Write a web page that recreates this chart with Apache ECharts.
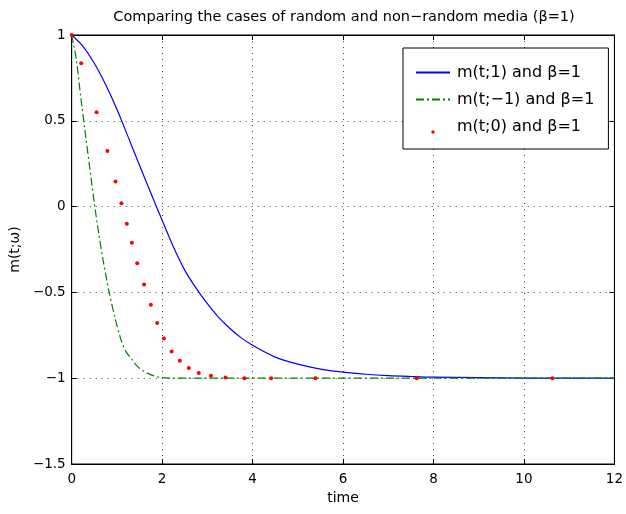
<!DOCTYPE html>
<html>
<head>
<meta charset="utf-8">
<script src="https://cdn.jsdelivr.net/npm/echarts@6/dist/echarts.min.js"></script>
<style>
html,body{margin:0;padding:0;background:#fff;}
#c{width:626px;height:514px;}
</style>
</head>
<body>
<div id="c"></div>
<script>
// ---- data ----
var xTicks = [0, 2, 4, 6, 8, 10, 12];
var yTicks = [-1.5, -1, -0.5, 0, 0.5, 1];

// m(t;1) and beta=1  (blue solid)
var tBlue = [0, 0.25, 0.5, 0.75, 1.0, 1.25, 1.5, 1.75, 2.0, 2.25, 2.5, 2.75, 3.0, 3.25, 3.5, 3.75, 4.0, 4.5, 5.0, 5.5, 6.0, 6.5, 7.0, 7.5, 8.0, 9.0, 10, 12];
var mBlue = [1, 0.934, 0.835, 0.711, 0.567, 0.405, 0.241, 0.079, -0.08, -0.235, -0.37, -0.475, -0.565, -0.645, -0.71, -0.765, -0.808, -0.877, -0.918, -0.947, -0.965, -0.977, -0.985, -0.99, -0.994, -0.997, -0.999, -1];

// m(t;-1) and beta=1  (green dash-dot)
var tGreen = [0, 0.1, 0.2, 0.3, 0.4, 0.5, 0.6, 0.7, 0.83, 0.95, 1.09, 1.2, 1.33, 1.45, 1.6, 1.8, 2.0, 2.2, 12];
var mGreen = [1, 0.86, 0.64, 0.43, 0.225, 0.02, -0.16, -0.32, -0.5, -0.64, -0.776, -0.845, -0.89, -0.93, -0.961, -0.985, -0.997, -1, -1];

// m(t;0) and beta=1  (red dots)
var tRed = [0, 0.21, 0.55, 0.79, 0.97, 1.10, 1.22, 1.33, 1.45, 1.60, 1.75, 1.89, 2.04, 2.21, 2.39, 2.59, 2.81, 3.08, 3.40, 3.82, 4.41, 5.39, 7.63, 10.63];
var mRed = [1, 0.835, 0.55, 0.324, 0.146, 0.02, -0.10, -0.21, -0.33, -0.454, -0.572, -0.679, -0.769, -0.844, -0.899, -0.941, -0.97, -0.986, -0.996, -1.0, -1.0, -1.0, -1.0, -1.0];

var names = ['m(t;1) and \u03b2=1', 'm(t;\u22121) and \u03b2=1', 'm(t;0) and \u03b2=1'];
var titleText = 'Comparing the cases of random and non\u2212random media (\u03b2=1)';

function pairs(xs, ys) { return xs.map(function (x, i) { return [x, ys[i]]; }); }
function fmt(v) { return String(v).replace('-', '\u2212'); }

var FONT = 'DejaVu Sans';
var chart = echarts.init(document.getElementById('c'), null, {renderer: 'canvas'});
var gridLine = {show: true, lineStyle: {color: '#444', width: 1, type: [1, 5]}};

var option = {
  backgroundColor: '#fff',
  animation: false,
  title: {
    text: titleText, left: 344, top: 10, textAlign: 'center', padding: 0,
    textStyle: {fontFamily: FONT, fontSize: 14.5, fontWeight: 'normal', color: '#000'}
  },
  grid: {left: 70, right: 10, top: 35, bottom: 50, show: true, borderColor: '#000', borderWidth: 1, backgroundColor: '#fff'},
  xAxis: [{
    type: 'value', min: xTicks[0], max: xTicks[xTicks.length - 1], interval: 2,
    name: 'time', nameLocation: 'middle', nameGap: 25,
    nameTextStyle: {fontFamily: FONT, fontSize: 14, color: '#000'},
    axisLine: {show: true, onZero: false, lineStyle: {color: '#000', width: 1}},
    axisTick: {show: true, inside: true, length: 5, lineStyle: {color: '#000'}},
    axisLabel: {fontFamily: FONT, fontSize: 13.5, color: '#000', margin: 8, formatter: fmt},
    splitLine: gridLine
  }, {
    type: 'value', position: 'top', min: xTicks[0], max: xTicks[xTicks.length - 1], interval: 2,
    axisLine: {show: true, onZero: false, lineStyle: {color: '#000', width: 1}},
    axisTick: {show: true, inside: true, length: 5, lineStyle: {color: '#000'}},
    axisLabel: {show: false}, splitLine: {show: false}
  }],
  yAxis: [{
    type: 'value', min: yTicks[0], max: yTicks[yTicks.length - 1], interval: 0.5,
    name: 'm(t;\u03c9)', nameLocation: 'middle', nameGap: 31,
    nameTextStyle: {fontFamily: FONT, fontSize: 14, color: '#000'},
    axisLine: {show: true, onZero: false, lineStyle: {color: '#000', width: 1}},
    axisTick: {show: true, inside: true, length: 5, lineStyle: {color: '#000'}},
    axisLabel: {fontFamily: FONT, fontSize: 13.5, color: '#000', margin: 6, formatter: fmt},
    splitLine: gridLine
  }, {
    type: 'value', position: 'right', min: yTicks[0], max: yTicks[yTicks.length - 1], interval: 0.5,
    axisLine: {show: true, onZero: false, lineStyle: {color: '#000', width: 1}},
    axisTick: {show: true, inside: true, length: 5, lineStyle: {color: '#000'}},
    axisLabel: {show: false}, splitLine: {show: false}
  }],
  legend: {
    orient: 'vertical', left: 403, top: 48,
    padding: [16, 14, 14, 12],
    backgroundColor: '#fff', borderColor: '#000', borderWidth: 1,
    itemWidth: 34, itemHeight: 17, itemGap: 10,
    textStyle: {fontFamily: FONT, fontSize: 16, color: '#000', lineHeight: 17, padding: [0, 0, 0, 2]},
    data: [
      {name: names[0], itemStyle: {opacity: 0}, lineStyle: {width: 2, opacity: 1}},
      {name: names[1], itemStyle: {opacity: 0}, lineStyle: {width: 2, opacity: 1}},
      {name: names[2], icon: 'path://M0,0 M34,17 M15.3,14 a1.7,1.7 0 1,0 3.4,0 a1.7,1.7 0 1,0 -3.4,0 Z', itemStyle: {color: '#ff0000', opacity: 1}}
    ]
  },
  series: [{
    name: names[0], type: 'line', data: pairs(tBlue, mBlue), showSymbol: false, symbol: 'none',
    smooth: 0.3,
    lineStyle: {color: '#0000ff', width: 1.2}, itemStyle: {color: '#0000ff'}, z: 2
  }, {
    name: names[1], type: 'line', data: pairs(tGreen, mGreen), showSymbol: false, symbol: 'none',
    smooth: 0.3,
    lineStyle: {color: '#008000', width: 1.2, type: [8, 3, 2, 3]}, itemStyle: {color: '#008000'}, z: 3
  }, {
    name: names[2], type: 'scatter', data: pairs(tRed, mRed), symbol: 'circle', symbolSize: 4,
    itemStyle: {color: '#ff0000', opacity: 1}, z: 4
  }]
};
chart.setOption(option);
</script>
</body>
</html>
